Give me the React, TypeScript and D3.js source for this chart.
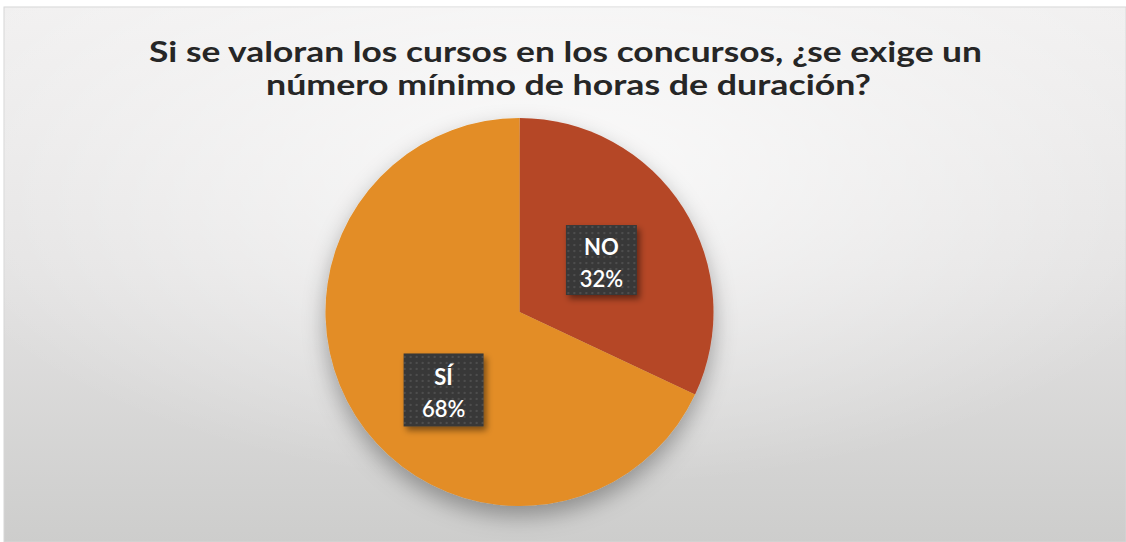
import React from "react";
import * as d3 from "d3";

const titleLines = [
  "Si se valoran los cursos en los concursos, ¿se exige un",
  "número mínimo de horas de duración?",
];
const categories = ["NO", "SÍ"];
const values = [32, 68];
const percentLabels = ["32%", "68%"];
const sliceColors = ["#b54727", "#e38d25"];

const W = 1126;
const H = 542;
const CX = 519.5;
const CY = 312;
const R = 194;

export default function App() {
  const pie = d3
    .pie<number>()
    .sort(null)
    .value((d) => d)(values);
  const arc = d3.arc<d3.PieArcDatum<number>>().innerRadius(0).outerRadius(R);
  const labelArc = d3
    .arc<d3.PieArcDatum<number>>()
    .innerRadius(R * 0.5)
    .outerRadius(R * 0.5);
  // small placement tweaks to mimic the original label layout
  const nudges = [
    [0, 0],
    [6, 26],
  ];
  const boxSizes = [
    [71, 70],
    [80, 73],
  ];

  return (
    <svg
      width={W}
      height={H}
      viewBox={`0 0 ${W} ${H}`}
      style={{ position: "absolute", left: 0, top: 0, display: "block" }}
    >
      <defs>
        <linearGradient id="bgLin" x1="0" y1="0" x2="0" y2="1">
          <stop offset="0" stopColor="#f1f0f0" />
          <stop offset="0.5" stopColor="#e3e2e2" />
          <stop offset="1" stopColor="#cdcdcc" />
        </linearGradient>
        <radialGradient id="bgRad" cx="0.5" cy="0.3" r="0.6">
          <stop offset="0" stopColor="#ffffff" stopOpacity="0.75" />
          <stop offset="1" stopColor="#ffffff" stopOpacity="0" />
        </radialGradient>
        <filter id="pieShadow" x="-30%" y="-30%" width="160%" height="170%">
          <feDropShadow dx="0" dy="10" stdDeviation="11" floodColor="#000" floodOpacity="0.32" />
        </filter>
        <filter id="boxShadow" x="-30%" y="-30%" width="170%" height="170%">
          <feDropShadow dx="3" dy="4" stdDeviation="3" floodColor="#000" floodOpacity="0.45" />
        </filter>
        <pattern id="dots" width="6" height="6" patternUnits="userSpaceOnUse">
          <rect width="6" height="6" fill="#393939" />
          <circle cx="3" cy="3" r="1" fill="#555555" />
        </pattern>
      </defs>

      <rect x={0} y={0} width={W} height={H} fill="#ffffff" />
      <rect x={4} y={7} width={W - 4} height={H - 7} fill="url(#bgLin)" stroke="#d6d6d6" strokeWidth={1} />
      <rect x={4} y={7} width={W - 4} height={H - 7} fill="url(#bgRad)" />

      <g fontFamily="Lato, 'Open Sans', sans-serif" fontWeight={700} fill="#262626" fontSize={29} textAnchor="middle">
        <text x={565.5} y={62} textLength={833} lengthAdjust="spacingAndGlyphs">
          {titleLines[0]}
        </text>
        <text x={568.5} y={95} textLength={605} lengthAdjust="spacingAndGlyphs">
          {titleLines[1]}
        </text>
      </g>

      <g transform={`translate(${CX},${CY})`}>
        <g filter="url(#pieShadow)">
          {pie.map((d, i) => (
            <path key={categories[i]} d={arc(d) || ""} fill={sliceColors[i]} />
          ))}
        </g>
        {pie.map((d, i) => {
          const [lx, ly] = labelArc.centroid(d);
          const x = lx + nudges[i][0];
          const y = ly + nudges[i][1];
          const [bw, bh] = boxSizes[i];
          return (
            <g key={"lbl" + i} transform={`translate(${x},${y})`}>
              <rect
                x={-bw / 2}
                y={-bh / 2}
                width={bw}
                height={bh}
                fill="url(#dots)"
                filter="url(#boxShadow)"
              />
              <text
                y={-5}
                textAnchor="middle"
                fill="#ffffff"
                fontFamily="Lato, 'Open Sans', sans-serif"
                fontWeight={700}
                fontSize={22}
              >
                {categories[i]}
              </text>
              <text
                y={27}
                textAnchor="middle"
                fill="#ffffff"
                fontFamily="Lato, 'Open Sans', sans-serif"
                fontWeight={600}
                fontSize={22}
              >
                {percentLabels[i]}
              </text>
            </g>
          );
        })}
      </g>
    </svg>
  );
}
